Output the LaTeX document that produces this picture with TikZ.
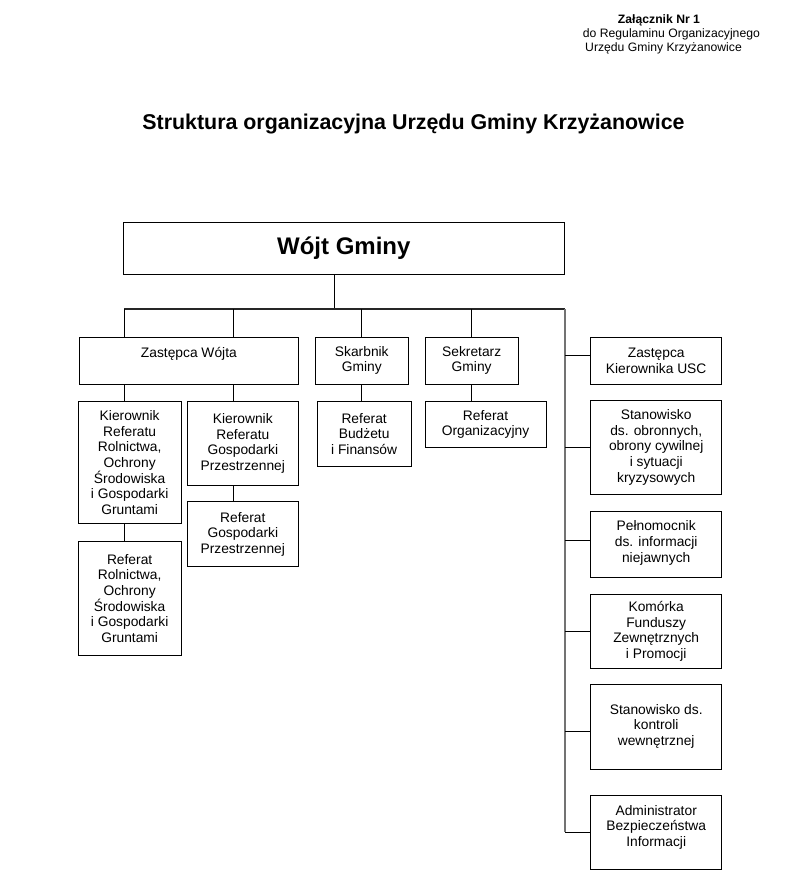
\documentclass[tikz,border=0pt]{standalone}
\usepackage{fontspec}
\setmainfont{Liberation Sans}
\begin{document}
\begin{tikzpicture}[x=1pt,y=-1pt,
  box/.style={draw, line width=0.9pt, align=center, inner sep=0pt,
    font=\fontsize{13.8}{15.7}\selectfont},
  conn/.style={line width=0.9pt},
  busline/.style={line width=1.1pt, black!55}]
\useasboundingbox (0,0) rectangle (803,885);
% header
\node[font=\bfseries\fontsize{12.2}{14}\selectfont, inner sep=0] (hdr1) at (659,20) {Załącznik Nr 1};
\node[font=\fontsize{12.2}{14}\selectfont, anchor=west, inner sep=0] (hdr2) at (582.7,34.3) {do Regulaminu Organizacyjnego};
\node[font=\fontsize{12.2}{14}\selectfont, anchor=west, inner sep=0] (hdr3) at (585,48.3) {Urzędu Gminy Krzyżanowice};
\node[font=\bfseries\fontsize{21.4}{24}\selectfont, inner sep=0] (title) at (413.5,124) {Struktura organizacyjna Urzędu Gminy Krzyżanowice};
% top box
\node[box, minimum width=441pt, minimum height=51.3pt, font=\bfseries\fontsize{24}{28}\selectfont] (wojt) at (343.8,248.3) {\raisebox{3pt}{Wójt Gminy}};
% level 2
\node[box, minimum width=219.7pt, minimum height=47pt] (zw) at (188.85,360.5) {Zastępca Wójta\\\mbox{}};
\node[box, minimum width=93pt, minimum height=47pt] (skarb) at (361.8,360.5) {Skarbnik\\Gminy};
\node[box, minimum width=93.3pt, minimum height=47pt] (sekr) at (471.65,360.5) {Sekretarz\\Gminy};
% level 3 left
\node[box, minimum width=102.7pt, minimum height=121.6pt] (krr) at (129.65,462.5) {Kierownik\\Referatu\\Rolnictwa,\\Ochrony\\Środowiska\\i Gospodarki\\Gruntami};
\node[box, minimum width=111pt, minimum height=83.3pt] (krgp) at (242.8,443.35) {Kierownik\\Referatu\\Gospodarki\\Przestrzennej};
\node[box, minimum width=111pt, minimum height=65pt] (rgp) at (242.8,534.2) {Referat\\Gospodarki\\Przestrzennej};
\node[box, minimum width=102.7pt, minimum height=113.3pt] (rrr) at (129.65,598.35) {Referat\\Rolnictwa,\\Ochrony\\Środowiska\\i Gospodarki\\Gruntami};
\node[box, minimum width=93.7pt, minimum height=65.7pt] (rbf) at (364.15,433.85) {Referat\\Budżetu\\i Finansów};
\node[box, minimum width=121pt, minimum height=46.7pt] (rorg) at (485.5,424.35) {Referat\\Organizacyjny};
% right column
\node[box, minimum width=131pt, minimum height=46.7pt] (usc) at (656.2,360.7) {Zastępca\\Kierownika USC};
\node[box, minimum width=131pt, minimum height=93.3pt] (obr) at (656.2,447.35) {Stanowisko\\ds. obronnych,\\obrony cywilnej\\i sytuacji\\kryzysowych};
\node[box, minimum width=131pt, minimum height=65.6pt] (peln) at (656.2,544.5) {Pełnomocnik\\ds. informacji\\niejawnych\\[-10pt]\mbox{}};
\node[box, minimum width=131pt, minimum height=74pt] (kom) at (656.2,631.3) {Komórka\\Funduszy\\Zewnętrznych\\i Promocji};
\node[box, minimum width=131pt, minimum height=84.7pt] (kontr) at (656.2,726.65) {\mbox{}\\[-6.5pt]Stanowisko ds.\\kontroli\\wewnętrznej};
\node[box, minimum width=131pt, minimum height=74pt] (adm) at (656.2,832) {Administrator\\Bezpieczeństwa\\Informacji\\[-3.5pt]\mbox{}};
% junction coordinates
\coordinate (bus) at (334,309);
\coordinate (busL) at (124,309);
\coordinate (busZ) at (233.5,309);
\coordinate (busR) at (565,309);
% connectors
\draw[conn] (wojt.south -| bus) -- (bus);
\draw[busline, black!85] (busL) -- (busR);
\draw[busline] (busR) -- (busR |- adm.west);
\draw[conn] (busL) -- (zw.north -| busL);
\draw[conn] (busZ) -- (zw.north -| busZ);
\draw[conn] (skarb.north) -- (skarb.north |- bus);
\draw[conn] (sekr.north) -- (sekr.north |- bus);
\draw[conn] (zw.south -| busL) -- (krr.north -| busL);
\draw[conn] (zw.south -| busZ) -- (krgp.north -| busZ);
\draw[conn] (krgp.south -| busZ) -- (rgp.north -| busZ);
\draw[conn] (krr.south -| busL) -- (rrr.north -| busL);
\draw[conn] (skarb.south) -- (skarb.south |- rbf.north);
\draw[conn] (sekr.south) -- (sekr.south |- rorg.north);
\draw[conn] ([yshift=5pt]usc.west) -- ([yshift=5pt]usc.west -| busR);
\draw[conn] (obr.west) -- (obr.west -| busR);
\draw[conn] ([yshift=4pt]peln.west) -- ([yshift=4pt]peln.west -| busR);
\draw[conn] (kom.west) -- (kom.west -| busR);
\draw[conn] ([yshift=-5pt]kontr.west) -- ([yshift=-5pt]kontr.west -| busR);
\draw[conn] (adm.west) -- (adm.west -| busR);
\end{tikzpicture}
\end{document}
